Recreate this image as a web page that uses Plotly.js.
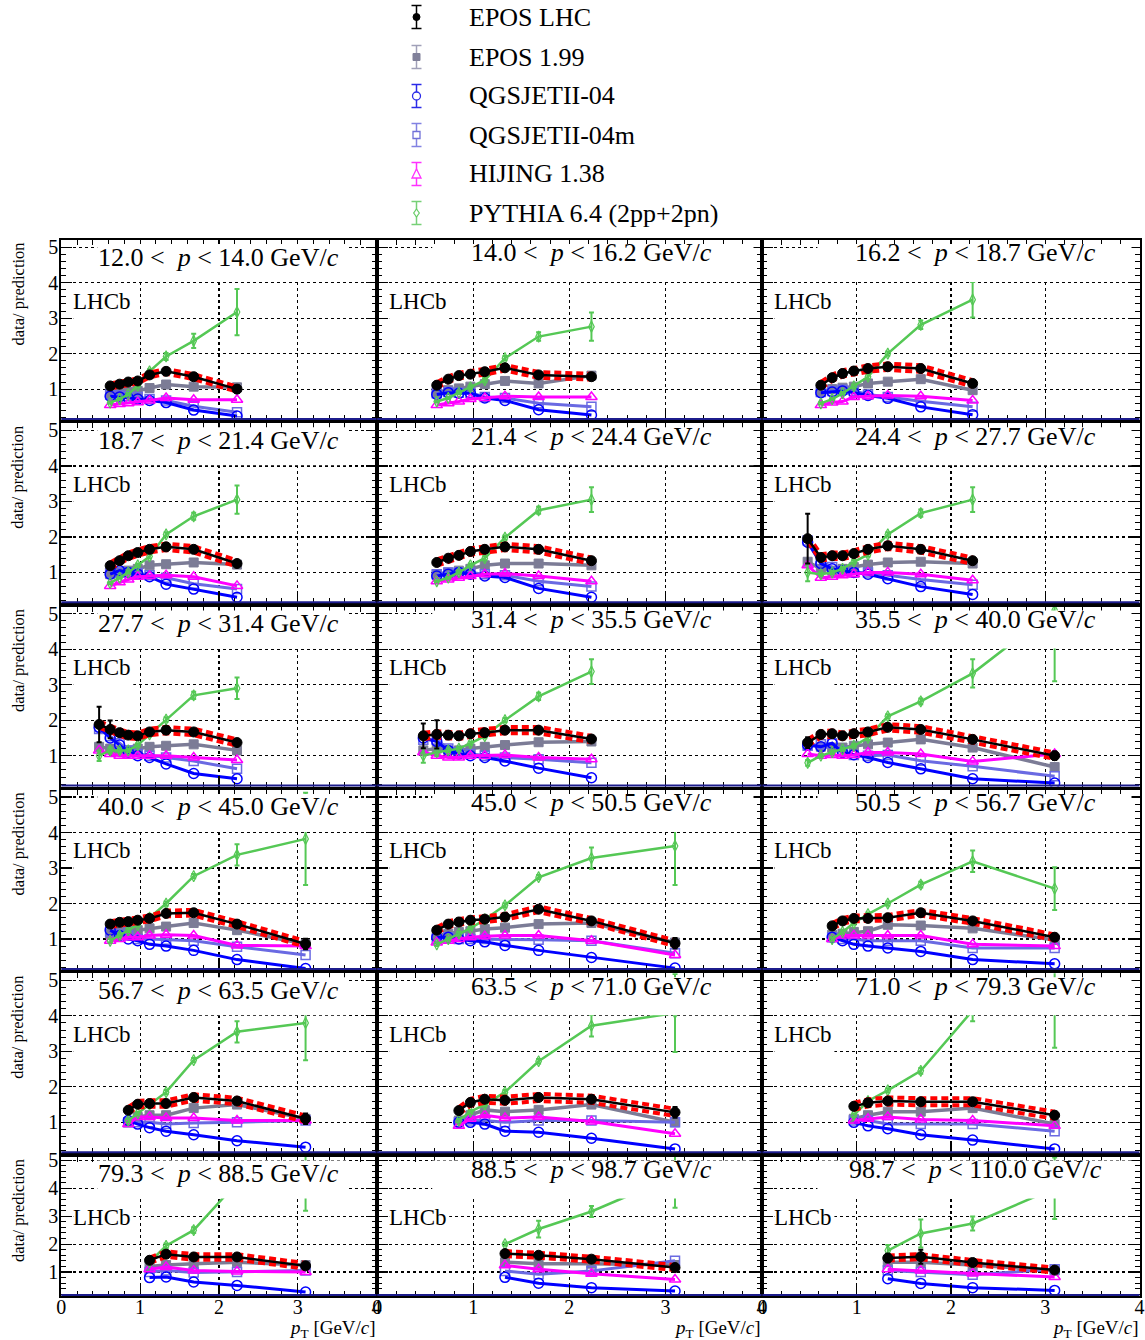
<!DOCTYPE html>
<html><head><meta charset="utf-8">
<script src="https://cdn.plot.ly/plotly-3.0.1.min.js"></script>
<style>body{margin:0;padding:0;background:#fff}#chart{width:1145px;height:1340px}</style>
</head><body><div id="chart"></div>
<script>
// ---------------- DATA ----------------
const ptBins = [0.48, 0.62, 0.74, 0.85, 0.97, 1.12, 1.33, 1.68, 2.23, 3.1];
const pEdges = ["12.0","14.0","16.2","18.7","21.4","24.4","27.7","31.4","35.5","40.0","45.0","50.5","56.7","63.5","71.0","79.3","88.5","98.7","110.0"];
const firstBin = [1,1,1, 1,1,0, 0,0,0, 1,1,2, 3,3,4, 5,6,6];

const eposLHC = [
 [1.09,1.14,1.20,1.23,1.40,1.50,1.35,1.00],
 [1.11,1.28,1.38,1.42,1.49,1.60,1.40,1.35],
 [1.11,1.32,1.44,1.51,1.58,1.63,1.58,1.16],
 [1.19,1.33,1.47,1.56,1.65,1.72,1.65,1.25],
 [1.28,1.40,1.48,1.59,1.65,1.72,1.65,1.33],
 [1.95,1.42,1.47,1.47,1.53,1.65,1.75,1.65,1.33],
 [1.88,1.74,1.65,1.58,1.56,1.67,1.72,1.67,1.37],
 [1.56,1.60,1.58,1.56,1.62,1.65,1.72,1.72,1.47],
 [1.37,1.60,1.62,1.56,1.62,1.67,1.80,1.74,1.46,1.00],
 [1.42,1.47,1.49,1.53,1.58,1.72,1.74,1.42,0.86],
 [1.25,1.42,1.48,1.53,1.56,1.62,1.84,1.51,0.88],
 [1.37,1.51,1.58,1.58,1.60,1.74,1.51,1.05],
 [1.34,1.51,1.53,1.53,1.70,1.60,1.10],
 [1.33,1.56,1.65,1.62,1.70,1.65,1.28],
 [1.45,1.55,1.60,1.58,1.58,1.20],
 [1.42,1.64,1.54,1.54,1.22],
 [1.66,1.60,1.46,1.16],
 [1.50,1.55,1.34,1.07]
];
const eposLHCErr = [
 [0.06,0.06,0.06,0.06,0.06,0.06,0.06,0.10],
 [0.05,0.05,0.05,0.05,0.05,0.05,0.05,0.10],
 [0.05,0.05,0.05,0.05,0.05,0.05,0.05,0.06],
 [0.05,0.05,0.05,0.05,0.05,0.05,0.05,0.06],
 [0.05,0.05,0.05,0.05,0.05,0.05,0.05,0.06],
 [0.70,0.10,0.06,0.05,0.05,0.05,0.05,0.05,0.06],
 [0.50,0.25,0.08,0.05,0.05,0.05,0.05,0.05,0.06],
 [0.35,0.40,0.08,0.05,0.05,0.05,0.05,0.05,0.06],
 [0.15,0.08,0.06,0.05,0.05,0.05,0.05,0.05,0.06,0.12],
 [0.05,0.05,0.05,0.05,0.05,0.05,0.05,0.06,0.15],
 [0.06,0.05,0.05,0.05,0.05,0.05,0.05,0.06,0.15],
 [0.05,0.05,0.05,0.05,0.05,0.05,0.06,0.10],
 [0.05,0.05,0.05,0.05,0.05,0.06,0.15],
 [0.05,0.05,0.05,0.05,0.05,0.06,0.15],
 [0.05,0.05,0.05,0.05,0.06,0.10],
 [0.10,0.08,0.08,0.08,0.12],
 [0.08,0.10,0.08,0.12],
 [0.15,0.25,0.08,0.08]
];
const bandHalf = [0.07,0.08,0.09,0.09,0.09,0.09,0.09,0.09,0.09,0.08,0.08,0.08,0.09,0.10,0.10,0.10,0.09,0.09];

const epos199 = [
 [0.85,0.90,0.92,0.95,1.03,1.13,1.07,1.05],
 [0.92,0.97,1.02,1.07,1.14,1.23,1.16,1.38],
 [0.94,1.00,1.04,1.07,1.16,1.21,1.28,0.97],
 [0.95,1.00,1.05,1.10,1.20,1.23,1.28,1.22],
 [0.95,1.00,1.05,1.10,1.20,1.25,1.25,1.20],
 [1.30,1.10,1.05,1.10,1.15,1.22,1.28,1.30,1.25],
 [1.25,1.20,1.15,1.15,1.20,1.25,1.28,1.32,1.15],
 [1.15,1.20,1.15,1.15,1.20,1.25,1.30,1.38,1.40],
 [1.30,1.25,1.23,1.23,1.28,1.32,1.37,1.46,1.23,0.68],
 [1.15,1.20,1.25,1.25,1.30,1.35,1.45,1.25,0.85],
 [1.10,1.15,1.20,1.22,1.28,1.32,1.42,1.45,0.90],
 [1.12,1.15,1.20,1.22,1.40,1.38,1.30,0.97],
 [1.00,1.15,1.20,1.20,1.40,1.50,1.10],
 [1.05,1.20,1.35,1.30,1.35,1.50,1.00],
 [1.10,1.20,1.30,1.30,1.40,0.95],
 [1.20,1.25,1.30,1.35,1.25],
 [1.35,1.30,1.30,1.25],
 [1.35,1.35,1.25,1.05]
];
const qgs04 = [
 [0.80,0.78,0.75,0.72,0.68,0.62,0.41,0.24],
 [0.85,0.90,0.88,0.88,0.75,0.68,0.42,0.27],
 [0.90,0.92,0.95,0.90,0.82,0.74,0.50,0.28],
 [0.95,1.05,1.00,0.95,0.88,0.67,0.53,0.30],
 [0.90,0.95,1.00,0.95,0.90,0.86,0.55,0.30],
 [1.85,1.25,1.10,1.05,1.00,0.95,0.82,0.60,0.38],
 [1.80,1.50,1.30,1.10,1.00,0.95,0.77,0.50,0.35],
 [1.50,1.40,1.15,1.05,1.00,0.95,0.85,0.65,0.38],
 [1.30,1.25,1.35,1.09,1.03,0.95,0.81,0.63,0.35,0.23],
 [1.25,1.10,1.00,0.95,0.85,0.80,0.68,0.42,0.17],
 [1.05,1.05,1.00,0.95,0.92,0.82,0.68,0.48,0.18],
 [1.05,0.95,0.85,0.80,0.75,0.65,0.42,0.30],
 [1.05,0.95,0.85,0.75,0.65,0.48,0.30],
 [1.00,1.00,0.95,0.75,0.72,0.55,0.25],
 [1.00,0.90,0.82,0.65,0.50,0.25],
 [0.80,0.82,0.64,0.52,0.28],
 [0.81,0.60,0.44,0.32],
 [0.76,0.59,0.44,0.34]
];
const qgs04m = [
 [0.85,0.82,0.80,0.78,0.72,0.68,0.52,0.35],
 [0.88,0.92,0.90,0.90,0.78,0.75,0.60,0.50],
 [0.92,0.95,0.98,0.95,0.85,0.78,0.66,0.50],
 [0.98,1.00,1.00,0.98,0.92,0.85,0.68,0.53],
 [0.95,1.00,1.00,1.00,0.95,0.92,0.75,0.60],
 [1.90,1.30,1.15,1.05,1.00,1.00,0.92,0.80,0.65],
 [1.75,1.55,1.35,1.15,1.05,1.00,0.95,0.85,0.63],
 [1.45,1.45,1.20,1.10,1.05,1.00,0.95,0.90,0.80],
 [1.28,1.32,1.35,1.13,1.02,1.00,1.02,0.86,0.70,0.42],
 [1.20,1.25,1.10,1.00,1.00,0.98,0.95,0.78,0.55],
 [1.00,1.05,1.00,1.00,1.00,0.98,0.98,0.95,0.60],
 [1.05,1.00,1.00,0.95,0.95,0.95,0.75,0.75],
 [1.00,1.00,1.00,0.95,0.98,1.00,1.05],
 [1.00,1.05,1.05,1.00,1.05,1.05,1.00],
 [1.05,1.05,0.95,0.95,0.95,0.75],
 [1.00,1.05,0.98,1.00,1.05],
 [1.04,0.92,1.04,1.40],
 [1.05,1.00,0.90,1.10]
];
const hijing = [
 [0.55,0.58,0.60,0.63,0.68,0.75,0.70,0.70],
 [0.55,0.60,0.65,0.72,0.75,0.80,0.78,0.78],
 [0.55,0.62,0.65,0.78,0.80,0.82,0.80,0.68],
 [0.62,0.72,0.80,0.88,0.90,0.92,0.88,0.62],
 [0.75,0.80,0.85,0.90,0.95,0.97,0.90,0.75],
 [1.20,0.85,0.88,0.92,0.95,1.00,1.00,0.95,0.78],
 [1.15,1.05,1.00,1.00,1.00,1.00,1.00,0.95,0.88],
 [1.10,1.00,0.95,0.95,1.00,1.00,1.02,0.95,0.90],
 [1.05,1.00,1.02,1.00,1.02,1.09,1.09,1.05,0.84,1.05],
 [0.95,1.00,1.05,1.05,1.10,1.12,1.10,0.82,0.80],
 [0.90,0.95,1.00,1.05,1.08,1.10,1.10,0.95,0.55],
 [1.00,1.10,1.10,1.10,1.10,1.10,0.85,0.80],
 [0.95,1.15,1.15,1.12,1.12,1.05,1.05],
 [0.90,1.10,1.20,1.12,1.15,1.02,0.68],
 [1.05,1.10,1.15,1.08,1.05,0.90],
 [1.10,1.18,1.05,1.02,1.00],
 [1.24,1.10,0.94,0.73],
 [1.10,1.05,0.95,0.82]
];
const pythia = [
 [0.62,0.72,0.85,1.10,1.50,1.92,2.36,3.17],
 [0.65,0.75,0.90,1.05,1.25,1.87,2.48,2.76],
 [0.60,0.72,0.88,1.08,1.35,2.00,2.81,3.52],
 [0.70,0.85,1.00,1.20,1.45,2.07,2.58,3.05],
 [0.75,0.85,1.00,1.20,1.40,1.98,2.75,3.05],
 [1.00,0.95,1.00,1.10,1.30,1.50,2.07,2.67,3.05],
 [1.00,1.15,1.15,1.15,1.30,1.60,2.02,2.70,2.90],
 [1.00,1.10,1.15,1.20,1.35,1.55,2.00,2.67,3.37],
 [0.80,1.00,1.10,1.18,1.28,1.50,2.11,2.53,3.32,5.10],
 [0.95,1.10,1.25,1.40,1.60,2.00,2.77,3.37,3.82],
 [0.85,1.00,1.15,1.30,1.55,1.95,2.74,3.28,3.62],
 [1.00,1.20,1.45,1.70,2.00,2.53,3.19,2.42],
 [1.05,1.25,1.50,1.85,2.75,3.55,3.80],
 [1.05,1.30,1.50,1.85,2.72,3.72,4.08],
 [1.20,1.60,1.90,2.45,4.15,4.60],
 [1.35,1.94,2.50,4.20,4.20],
 [2.00,2.54,3.17,4.45],
 [1.77,2.38,2.74,4.00]
];
const pythiaErr = [
 [0.03,0.03,0.04,0.05,0.06,0.10,0.20,0.65],
 [0.03,0.03,0.04,0.05,0.06,0.06,0.12,0.40],
 [0.03,0.03,0.04,0.05,0.06,0.06,0.12,0.50],
 [0.03,0.03,0.04,0.05,0.06,0.06,0.10,0.40],
 [0.03,0.03,0.04,0.05,0.06,0.06,0.10,0.35],
 [0.25,0.05,0.05,0.05,0.05,0.06,0.06,0.10,0.35],
 [0.15,0.08,0.05,0.05,0.05,0.06,0.06,0.10,0.30],
 [0.20,0.10,0.05,0.05,0.05,0.06,0.06,0.10,0.35],
 [0.08,0.05,0.05,0.05,0.05,0.06,0.06,0.08,0.40,2.00],
 [0.05,0.05,0.05,0.05,0.05,0.06,0.06,0.30,1.30],
 [0.05,0.05,0.05,0.05,0.05,0.06,0.06,0.30,1.10],
 [0.05,0.05,0.05,0.05,0.06,0.08,0.30,0.60],
 [0.05,0.05,0.05,0.06,0.06,0.30,1.05],
 [0.05,0.05,0.05,0.06,0.06,0.30,1.10],
 [0.05,0.06,0.06,0.08,0.30,1.50],
 [0.06,0.08,0.10,0.30,1.00],
 [0.06,0.30,0.20,1.15],
 [0.20,0.50,0.25,1.10]
];

const legendNames = ["EPOS LHC","EPOS 1.99","QGSJETII-04","QGSJETII-04m","HIJING 1.38","PYTHIA 6.4 (2pp+2pn)"];

// ---------------- STYLE / GEOMETRY ----------------
const W = 1145, H = 1340;
const FONT = '"Liberation Serif","Times New Roman",Times,serif';
const colPx = [[61.3,376.5],[377.2,761.5],[762.4,1139.5]];
const rowPx = [[240,420],[423.3,603.3],[606.6,786.6],[789.9,969.9],[973.2,1153.2],[1156.5,1296]];
const C = {lhc:'#000000', e199:'#7c7c96', q04:'#0000ff', q04m:'#6a6ae2', hij:'#ff00ff', pyt:'#55c855', band:'#ff0000'};
const px = x => x / W, py = y => 1 - y / H;

const traces = [], shapes = [], annotations = [];
const layout = {
  width: W, height: H, margin: {l:0, r:0, t:0, b:0}, showlegend: false,
  paper_bgcolor: '#fff', plot_bgcolor: '#fff', font: {family: FONT, color: '#000'}
};

function axisBase() {
  return {
    showline: true, linecolor: '#000', linewidth: 2, mirror: 'allticks',
    ticks: 'inside', ticklen: 11, tickwidth: 1.2, tickcolor: '#000',
    showgrid: true, gridcolor: '#000', griddash: 'dot', gridwidth: 1.2,
    zeroline: false, fixedrange: true, dtick: 1, tick0: 0,
    tickfont: {family: FONT, size: 20, color: '#000'},
    minor: {ticks: 'inside', ticklen: 5, dtick: 0.2, tick0: 0, tickcolor: '#000', tickwidth: 1, showgrid: false}
  };
}

function series(xs, ys, errs, ax, color, lineW, sym, msize, mline, dash) {
  const t = {
    type: 'scatter', mode: 'lines+markers', x: xs, y: ys,
    xaxis: 'x' + ax, yaxis: 'y' + ax, hoverinfo: 'skip',
    line: {color: color, width: lineW},
    marker: {symbol: sym, size: msize, color: color, line: {color: color, width: mline}}
  };
  if (dash) { t.mode = 'lines'; t.line.dash = dash; }
  if (errs) t.error_y = {type: 'data', array: errs, visible: true, color: color, thickness: 2, width: 2.5};
  return t;
}

for (let k = 0; k < 18; k++) {
  const r = Math.floor(k / 3), c = k % 3;
  const ax = k === 0 ? '' : String(k + 1);
  const [xL, xR] = colPx[c];
  const [yT, yB] = rowPx[r];

  const xa = axisBase();
  xa.domain = [px(xL), px(xR)];
  xa.range = [0, 4];
  xa.anchor = 'y' + ax;
  xa.showticklabels = (r === 5);
  xa.ticklabelstandoff = -8;
  layout['xaxis' + ax] = xa;

  const ya = axisBase();
  ya.domain = [py(yB), py(yT)];
  ya.range = r < 5 ? [0.13, 5.2] : [0.14, 5.14];
  ya.anchor = 'x' + ax;
  ya.showticklabels = (c === 0);
  ya.ticklabelstandoff = -3;
  layout['yaxis' + ax] = ya;

  const n = eposLHC[k].length;
  const xs = ptBins.slice(firstBin[k], firstBin[k] + n);
  const up = eposLHC[k].map(v => v + bandHalf[k]);
  const lo = eposLHC[k].map(v => v - bandHalf[k]);

  traces.push(series(xs, epos199[k], null, ax, C.e199, 3.5, 'square', 9, 1, null));
  traces.push(series(xs, qgs04m[k], null, ax, C.q04m, 3, 'square-open', 9, 1.5, null));
  traces.push(series(xs, qgs04[k], null, ax, C.q04, 3, 'circle-open', 10, 1.5, null));
  traces.push(series(xs, hijing[k], null, ax, C.hij, 3, 'triangle-up-open', 10, 1.5, null));
  traces.push(series(xs, pythia[k], pythiaErr[k], ax, C.pyt, 2.5, 'diamond-tall-open', 8, 1.2, null));
  traces.push(series(xs, up, null, ax, C.band, 4, 'circle', 1, 0, '7px,4px'));
  traces.push(series(xs, lo, null, ax, C.band, 4, 'circle', 1, 0, '7px,4px'));
  traces.push(series(xs, eposLHC[k], eposLHCErr[k], ax, C.lhc, 2.5, 'circle', 10, 1, null));

  // white title box and LHCb box (drawn over data like the original)
  const boxL = c === 0 ? xL + 36 : xL + 55;
  const boxR = c === 0 ? xL + 286 : xR - 8;
  shapes.push({type: 'rect', xref: 'paper', yref: 'paper', layer: 'above',
    x0: px(boxL), x1: px(boxR), y0: py(yT + 42), y1: py(yT + 4),
    fillcolor: '#fff', line: {width: 0}});
  shapes.push({type: 'rect', xref: 'paper', yref: 'paper', layer: 'above',
    x0: px(xL + 12), x1: px(xL + 72), y0: py(yT + 86), y1: py(yT + 47),
    fillcolor: '#fff', line: {width: 0}});
  // navy line along bottom of frame
  shapes.push({type: 'line', xref: 'paper', yref: 'paper', layer: 'above',
    x0: px(xL), x1: px(xR), y0: py(yB - 1), y1: py(yB - 1),
    line: {color: '#1c1c8c', width: 2}});

  const titleCx = c === 0 ? 218 : (c === 1 ? 591 : 976);
  const titleCy = yT + (c === 0 ? 17 : 13);
  annotations.push({xref: 'paper', yref: 'paper', x: px(titleCx), y: py(titleCy),
    xanchor: 'center', yanchor: 'middle', showarrow: false,
    text: pEdges[k] + ' &lt;  <i>p</i> &lt; ' + pEdges[k + 1] + ' GeV/<i>c</i>',
    font: {family: FONT, size: 26, color: '#000'}});
  annotations.push({xref: 'paper', yref: 'paper', x: px(xL + 10), y: py(yT + 61),
    xanchor: 'left', yanchor: 'middle', showarrow: false, text: 'LHCb',
    font: {family: FONT, size: 23, color: '#000'}});

  if (c === 0) {
    annotations.push({xref: 'paper', yref: 'paper', x: px(18), y: py(yT + 1),
      xanchor: 'center', yanchor: 'top', showarrow: false, textangle: -90,
      text: 'data/ prediction', font: {family: FONT, size: 16.5, color: '#000'}});
  }
  if (r === 5) {
    annotations.push({xref: 'paper', yref: 'paper', x: px(xR + 1), y: py(1329),
      xanchor: 'right', yanchor: 'middle', showarrow: false,
      text: '<i>p</i><sub>T</sub> [GeV/<i>c</i>]', font: {family: FONT, size: 19, color: '#000'}});
  }
}

// ---------------- LEGEND (drawn) ----------------
const legY = [17, 57, 96, 135, 174, 213];
const legBar = ['#000000', '#a0a0b8', '#2a2ae8', '#8282e2', '#ff30ff', '#77d077'];
const legMk = ['#000000', '#80809a', '#2a2ae8', '#7070d8', '#ff30ff', '#66cc66'];
const LX = 416.5;
legendNames.forEach((name, i) => {
  const y = legY[i];
  shapes.push({type: 'line', xref: 'paper', yref: 'paper', x0: px(LX), x1: px(LX), y0: py(y - 11.5), y1: py(y + 11.5), line: {color: legBar[i], width: 1.5}});
  shapes.push({type: 'line', xref: 'paper', yref: 'paper', x0: px(LX - 5), x1: px(LX + 5), y0: py(y - 11.5), y1: py(y - 11.5), line: {color: legBar[i], width: 1.5}});
  shapes.push({type: 'line', xref: 'paper', yref: 'paper', x0: px(LX - 5), x1: px(LX + 5), y0: py(y + 11.5), y1: py(y + 11.5), line: {color: legBar[i], width: 1.5}});
  const mc = legMk[i];
  if (i === 0) {
    shapes.push({type: 'circle', xref: 'paper', yref: 'paper', x0: px(LX - 3.5), x1: px(LX + 3.5), y0: py(y + 3.5), y1: py(y - 3.5), fillcolor: mc, line: {color: mc, width: 1}});
  } else if (i === 1) {
    shapes.push({type: 'rect', xref: 'paper', yref: 'paper', x0: px(LX - 3.5), x1: px(LX + 3.5), y0: py(y + 3.5), y1: py(y - 3.5), fillcolor: mc, line: {color: mc, width: 1}});
  } else if (i === 2) {
    shapes.push({type: 'circle', xref: 'paper', yref: 'paper', x0: px(LX - 4), x1: px(LX + 4), y0: py(y + 4), y1: py(y - 4), fillcolor: '#fff', line: {color: mc, width: 1.3}});
  } else if (i === 3) {
    shapes.push({type: 'rect', xref: 'paper', yref: 'paper', x0: px(LX - 3.5), x1: px(LX + 3.5), y0: py(y + 3.5), y1: py(y - 3.5), fillcolor: '#fff', line: {color: mc, width: 1.3}});
  } else if (i === 4) {
    shapes.push({type: 'path', xref: 'paper', yref: 'paper',
      path: `M ${px(LX - 4.5)},${py(y + 4)} L ${px(LX + 4.5)},${py(y + 4)} L ${px(LX)},${py(y - 5)} Z`,
      fillcolor: '#fff', line: {color: mc, width: 1.3}});
  } else {
    shapes.push({type: 'path', xref: 'paper', yref: 'paper',
      path: `M ${px(LX)},${py(y - 4)} L ${px(LX + 2.8)},${py(y)} L ${px(LX)},${py(y + 4)} L ${px(LX - 2.8)},${py(y)} Z`,
      fillcolor: '#fff', line: {color: mc, width: 1.2}});
  }
  annotations.push({xref: 'paper', yref: 'paper', x: px(467), y: py(y), xanchor: 'left', yanchor: 'middle',
    showarrow: false, text: name, font: {family: FONT, size: 26, color: '#000'}});
});

layout.shapes = shapes;
layout.annotations = annotations;

Plotly.newPlot('chart', traces, layout, {staticPlot: true, displayModeBar: false});
</script>
</body></html>
